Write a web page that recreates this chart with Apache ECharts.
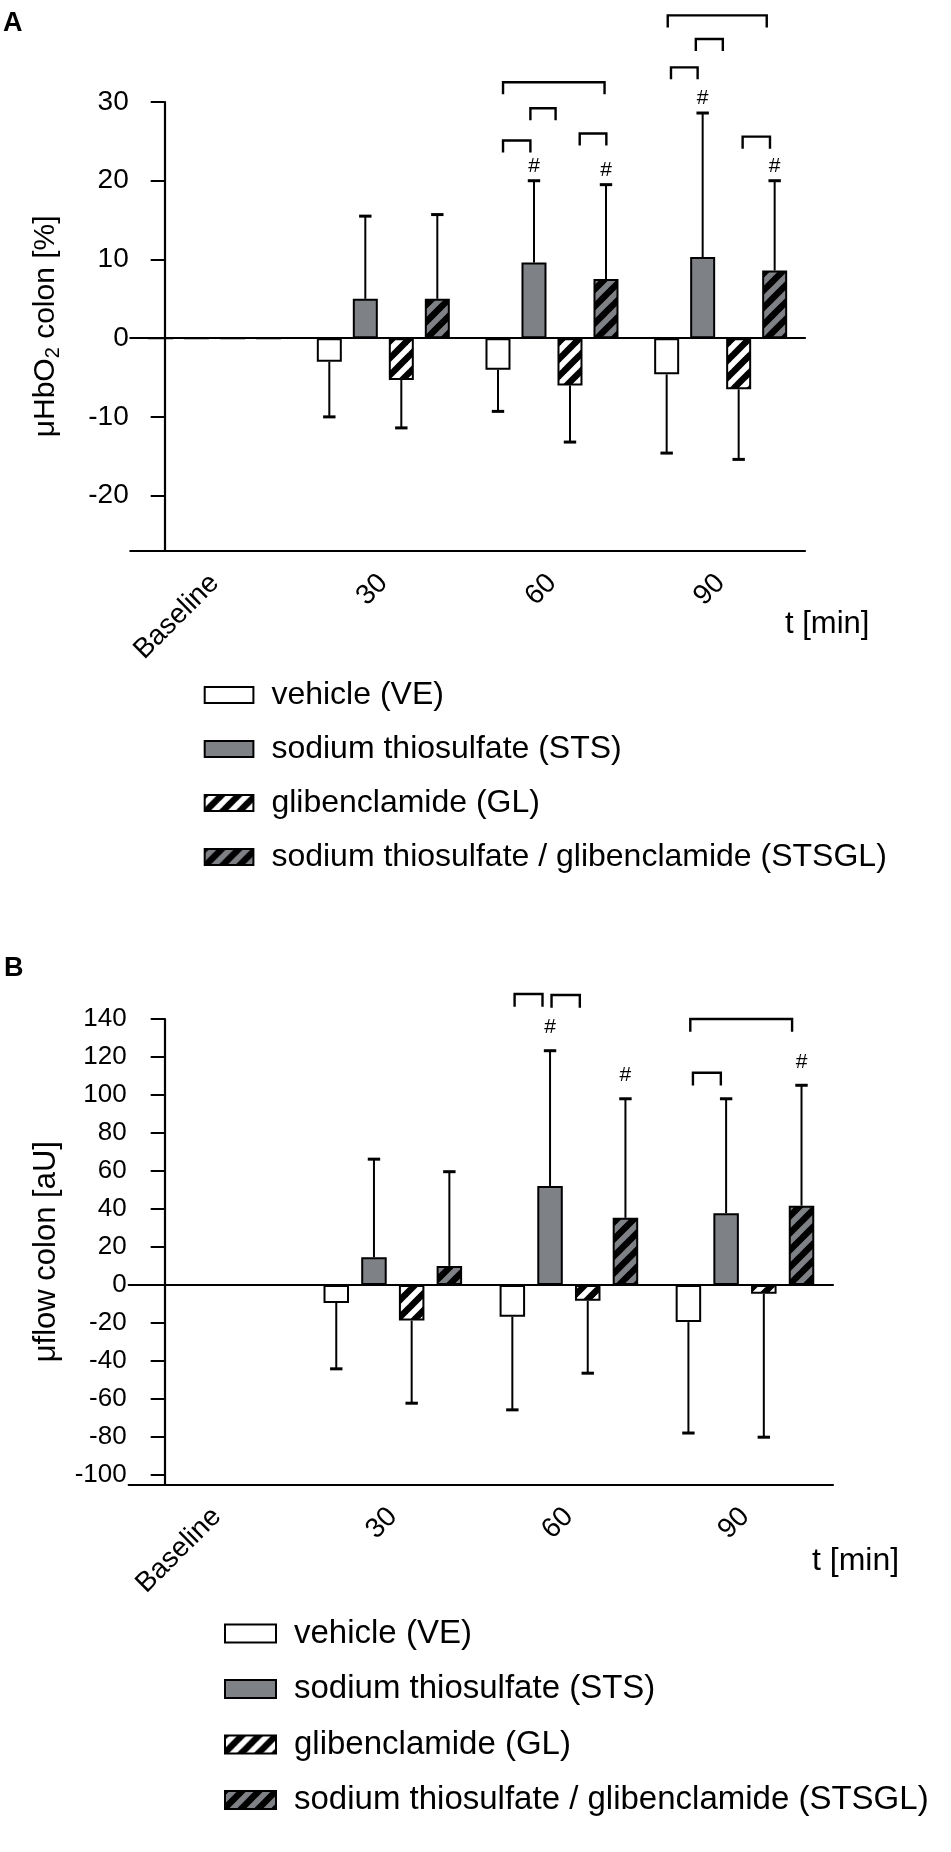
<!DOCTYPE html>
<html><head><meta charset="utf-8">
<script src="https://cdn.jsdelivr.net/npm/echarts@6/dist/echarts.min.js"></script>
<style>html,body{margin:0;padding:0;background:#fff}#c{width:951px;height:1852px}</style>
</head><body><div id="c"></div>
<script>
// ---------- data ----------
const categories = ['Baseline', '30', '60', '90'];
const seriesNames = ['vehicle (VE)', 'sodium thiosulfate (STS)', 'glibenclamide (GL)', 'sodium thiosulfate / glibenclamide (STSGL)'];

// Panel A: μHbO2 colon [%]  (mean, SD)
const A_VE = [0, -3.0, -4.0, -4.6];
const A_STS = [0, 5.0, 9.6, 10.3];
const A_GL = [0, -5.3, -6.0, -6.5];
const A_STSGL = [0, 5.0, 7.5, 8.6];
const A_VE_SD = [0, 7.0, 5.3, 10.0];
const A_STS_SD = [0, 10.5, 10.4, 18.3];
const A_GL_SD = [0, 6.1, 7.2, 8.9];
const A_STSGL_SD = [0, 10.7, 12.0, 11.4];
const A_ticks = [-20, -10, 0, 10, 20, 30];
// brackets: [category index, from bar slot, to bar slot, level]
const A_brackets = [[2, 0.14, 0.90, 25.1], [2, 0.90, 1.60, 29.2], [2, 2.27, 3.01, 26.0], [2, 0.14, 2.96, 32.5],
                    [3, 0.03, 2.78, 41.0], [3, 0.81, 1.56, 38.0], [3, 0.12, 0.86, 34.4], [3, 2.11, 2.87, 25.6]];
// '#' marks: [category index, bar index]
const A_hash = [[2, 1], [2, 3], [3, 1], [3, 3]];

// Panel B: μflow colon [aU]
const B_VE = [0, -9.5, -16.8, -19.6];
const B_STS = [0, 14.6, 52.1, 37.7];
const B_GL = [0, -18.8, -8.4, -4.7];
const B_STSGL = [0, 10.0, 35.3, 41.7];
const B_VE_SD = [0, 34.7, 49.0, 58.4];
const B_STS_SD = [0, 51.6, 71.2, 60.3];
const B_GL_SD = [0, 43.5, 38.1, 75.5];
const B_STSGL_SD = [0, 49.6, 62.7, 63.4];
const B_ticks = [-100, -80, -60, -40, -20, 0, 20, 40, 60, 80, 100, 120, 140];
const B_brackets = [[2, 0.06, 0.80, 153.2], [2, 1.04, 1.79, 152.6], [3, 0.05, 2.75, 140.0], [3, 0.12, 0.86, 111.7]];
const B_hash = [[2, 1], [2, 3], [3, 3]];

// ---------- styling ----------
const FONT = '"Liberation Sans", Arial, Helvetica, sans-serif';
const GREY = '#7e8185';
function hatch(bg) {
  const P = 17, c = document.createElement('canvas');
  c.width = P; c.height = P;
  const g = c.getContext('2d');
  g.fillStyle = bg; g.fillRect(0, 0, P, P);
  g.strokeStyle = '#000'; g.lineWidth = 6.5;
  for (let k = -1; k <= 1; k++) {
    g.beginPath(); g.moveTo(k * P - 2, P + 2); g.lineTo(k * P + P + 2, -2); g.stroke();
  }
  return { image: c, repeat: 'repeat' };
}
const fills = ['#ffffff', GREY, hatch('#ffffff'), hatch(GREY)];

const panels = [
  { means: [A_VE, A_STS, A_GL, A_STSGL], sds: [A_VE_SD, A_STS_SD, A_GL_SD, A_STSGL_SD], ticks: A_ticks,
    brackets: A_brackets, hash: A_hash, min: -27, max: 30,
    grid: { left: 130.3, top: 102, width: 674.7, height: 448.7 }, yOffset: -34.4,
    bw: 25, gap: 11, leg: 12, hashGap: 4, tickFont: 28, catFont: 28, catMargin: 28, labelMargin: 36,
    name: '{a|μHbO}{s|2}{a| colon [%]}', nameFont: 30, nameGap: 101 },
  { means: [B_VE, B_STS, B_GL, B_STSGL], sds: [B_VE_SD, B_STS_SD, B_GL_SD, B_STSGL_SD], ticks: B_ticks,
    brackets: B_brackets, hash: B_hash, min: -105, max: 140,
    grid: { left: 128.7, top: 1019, width: 704.3, height: 465.3 }, yOffset: -36,
    bw: 25.5, gap: 12.2, leg: 12.7, hashGap: 13, tickFont: 26, catFont: 28, catMargin: 28, labelMargin: 38,
    name: '{a|μflow colon [aU]}', nameFont: 31, nameGap: 103 }
];

const grid = [], xAxis = [], yAxis = [], series = [];
panels.forEach((p, pi) => {
  grid.push(Object.assign({ containLabel: false }, p.grid));
  const pitch = p.bw + p.gap;
  xAxis.push({
    type: 'category', gridIndex: pi, data: categories, position: 'bottom',
    axisLine: { onZero: false, lineStyle: { color: '#000', width: 2.2 } },
    axisTick: { alignWithLabel: true, length: 12, lineStyle: { color: '#000', width: 2 } },
    axisLabel: { rotate: 45, margin: p.catMargin, color: '#000', fontSize: p.catFont, fontFamily: FONT },
    splitLine: { show: false }
  });
  xAxis.push({
    type: 'category', gridIndex: pi, data: categories, position: 'top',
    axisLine: { onZero: true, lineStyle: { color: '#000', width: 2.2 } },
    axisTick: { show: false }, axisLabel: { show: false }, splitLine: { show: false }
  });
  yAxis.push({
    type: 'value', gridIndex: pi, min: p.min, max: p.max, offset: p.yOffset,
    axisLine: { show: true, lineStyle: { color: '#000', width: 2.2 } },
    axisTick: { show: true, length: 14, customValues: p.ticks, lineStyle: { color: '#000', width: 2 } },
    axisLabel: { customValues: p.ticks, margin: p.labelMargin, color: '#000', fontSize: p.tickFont, fontFamily: FONT },
    splitLine: { show: false },
    name: p.name, nameLocation: 'middle', nameRotate: 90, nameGap: p.nameGap,
    nameTextStyle: {
      color: '#000', fontFamily: FONT, fontSize: p.nameFont,
      rich: {
        a: { fontSize: p.nameFont, fontFamily: FONT, color: '#000' },
        s: { fontSize: Math.round(p.nameFont * 0.65), fontFamily: FONT, color: '#000', padding: [16, 0, 0, 0] }
      }
    }
  });
  const xi = pi * 2;
  p.means.forEach((m, si) => {
    series.push({
      type: 'bar', name: seriesNames[si], xAxisIndex: xi, yAxisIndex: pi, data: m,
      barWidth: p.bw, barGap: (p.gap / p.bw * 100) + '%',
      itemStyle: { color: fills[si], borderColor: '#000', borderWidth: 2 },
      emphasis: { disabled: true }, animation: false
    });
  });
  // error bars
  const errData = [];
  p.means.forEach((m, si) => m.forEach((v, ci) => errData.push([ci, si, v, p.sds[si][ci]])));
  series.push({
    type: 'custom', xAxisIndex: xi, yAxisIndex: pi, data: errData, clip: false, z: 3, silent: true, animation: false,
    encode: { x: 0, y: 2 },
    renderItem: (params, api) => {
      const ci = api.value(0), si = api.value(1), mean = api.value(2), sd = api.value(3);
      if (!sd) return null;
      const c0 = api.coord([ci, mean]);
      const x = c0[0] + (si - 1.5) * pitch;
      const e = api.coord([ci, mean < 0 ? mean - sd : mean + sd]);
      return { type: 'group', children: [
        { type: 'line', shape: { x1: x, y1: c0[1], x2: x, y2: e[1] }, style: { stroke: '#000', lineWidth: 2 } },
        { type: 'line', shape: { x1: x - 6.2, y1: e[1], x2: x + 6.2, y2: e[1] }, style: { stroke: '#000', lineWidth: 3 } }
      ] };
    }
  });
  // significance brackets
  series.push({
    type: 'custom', xAxisIndex: xi, yAxisIndex: pi, data: p.brackets, clip: false, z: 3, silent: true, animation: false,
    encode: { x: 0, y: 3 },
    renderItem: (params, api) => {
      const ci = api.value(0), b1 = api.value(1), b2 = api.value(2), lv = api.value(3);
      const c = api.coord([ci, lv]);
      const x1 = c[0] + (b1 - 1.5) * pitch, x2 = c[0] + (b2 - 1.5) * pitch, y = c[1];
      return { type: 'polyline', shape: { points: [[x1, y + p.leg], [x1, y], [x2, y], [x2, y + p.leg]] },
        style: { stroke: '#000', lineWidth: 2.4, fill: null } };
    }
  });
  // '#' marks above the error bars
  const hashData = p.hash.map(h => [h[0], h[1], p.means[h[1]][h[0]] + p.sds[h[1]][h[0]]]);
  series.push({
    type: 'custom', xAxisIndex: xi, yAxisIndex: pi, data: hashData, clip: false, z: 3, silent: true, animation: false,
    encode: { x: 0, y: 2 },
    renderItem: (params, api) => {
      const ci = api.value(0), si = api.value(1), top = api.value(2);
      const c = api.coord([ci, top]);
      return { type: 'text', x: c[0] + (si - 1.5) * pitch, y: c[1] - p.hashGap,
        style: { text: '#', font: '21px ' + FONT, fill: '#000', textAlign: 'center', textVerticalAlign: 'bottom' } };
    }
  });
});

const legends = [
  { left: 198.7, top: 674, itemWidth: 48.7, itemHeight: 16, fontSize: 32, lineHeight: 30, itemGap: 22, padLeft: 13 },
  { left: 219, top: 1612, itemWidth: 51, itemHeight: 18, fontSize: 33, lineHeight: 32, itemGap: 22.5, padLeft: 13 }
].map(l => ({
  orient: 'vertical', left: l.left, top: l.top, data: seriesNames, icon: 'rect',
  itemWidth: l.itemWidth, itemHeight: l.itemHeight, itemGap: l.itemGap, selectedMode: false,
  itemStyle: { borderColor: '#000', borderWidth: 2 },
  textStyle: { color: '#000', fontFamily: FONT, fontSize: l.fontSize, lineHeight: l.lineHeight, padding: [0, 0, 0, l.padLeft] }
}));

const chart = echarts.init(document.getElementById('c'), null, { renderer: 'canvas' });
chart.setOption({
  backgroundColor: '#fff', animation: false,
  grid, xAxis, yAxis, series, legend: legends,
  graphic: [
    { type: 'text', left: 3, top: 10, style: { text: 'A', font: 'bold 27px ' + FONT, fill: '#000' } },
    { type: 'text', left: 4, top: 955, style: { text: 'B', font: 'bold 27px ' + FONT, fill: '#000' } },
    { type: 'text', left: 785, top: 609, style: { text: 't [min]', font: '31px ' + FONT, fill: '#000' } },
    { type: 'text', left: 812, top: 1545, style: { text: 't [min]', font: '32px ' + FONT, fill: '#000' } }
  ]
});
</script></body></html>
